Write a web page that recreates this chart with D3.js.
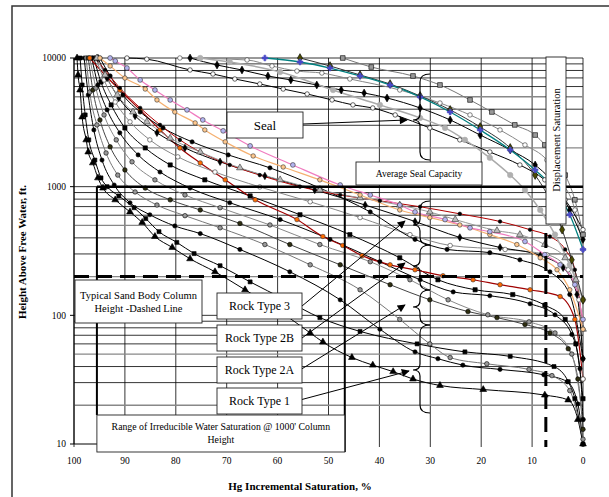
<!DOCTYPE html>
<html>
<head>
<meta charset="utf-8">
<script src="https://cdn.jsdelivr.net/npm/d3@7"></script>
<style>
  body { margin: 0; background: #fff; }
  svg text { font-family: 'Liberation Serif', 'DejaVu Serif', serif; }
</style>
</head>
<body>
<div id="chart"></div>
<script>
// tick values
const xTicks = [100, 90, 80, 70, 60, 50, 40, 30, 20, 10, 0];
const yTicks = [10, 100, 1000, 10000];
const yMinor = [20, 30, 40, 50, 60, 70, 80, 90, 200, 300, 400, 500, 600, 700, 800, 900,
  2000, 3000, 4000, 5000, 6000, 7000, 8000, 9000];

// curves: [Hg incremental saturation %, height above free water ft]
// seal samples
const sealSquares = [[47.2,10000],[41.6,8510],[33.4,7250],[28.1,6170],[22.2,4720],[17.9,3805],[13.4,3020],[9.4,2520],[7.5,2110],[5.5,1610],[3.5,1230],[1.6,790],[0,424]];
const sealTeal = [[62.5,10000],[55.6,9310],[49.7,8360],[43.8,7250],[37.9,6170],[32.0,4980],[26.1,3805],[20.2,2760],[14.3,1930],[9.4,1350],[5.5,943],[2.6,605],[0,325]];
const sealOlive = [[55.6,10000],[49.7,8665],[43.8,7380],[37.9,6280],[32.0,5070],[26.1,3950],[20.2,2910],[14.3,2000],[9.4,1230],[6.5,790],[4.1,463],[2.2,270],[0,132]];
const sealGray = [[75.2,10000],[69.4,9310],[59.5,7780],[49.1,5640],[39.9,4320],[32.0,3420],[27.1,2860],[23.2,2310],[18.3,1675],[14.3,1230],[11.4,943],[8.4,659],[5.5,424],[2.6,247],[0,132]];
const sealDiamonds = [[77.2,10000],[71.9,8820],[67.0,8070],[61.9,7250],[57.4,6750],[52.3,6170],[47.5,5640],[43.0,5345],[38.5,4890],[32.0,4090],[26.1,3300],[20.2,2520],[14.3,1930],[9.4,1475],[5.5,1030],[2.6,659],[0,389]];
const sealOpen = [[89.6,10000],[85.7,9800],[77.2,8070],[72.7,7510],[68.4,6870],[63.5,6280],[58.9,5740],[54.2,5250],[49.3,4720],[45.2,4320],[41.3,4090],[36.9,3610],[30.1,2860],[24.2,2310],[18.3,1860],[12.4,1475],[7.5,1130],[3.5,790],[0,463]];
const sealOpen2 = [[79.2,10000],[66.0,9650],[61.1,8665],[56.2,7920],[51.3,7640],[45.8,6870],[36.0,5640],[28.1,4470],[22.2,3610],[16.3,2760],[11.4,2110],[7.1,1610],[4.5,1130],[1.6,659],[0,325]];
// rock type 3 samples
const pinkLav = [[92.9,10000],[91.9,9480],[89.6,8360],[87.0,6750],[84.1,5640],[81.1,4720],[77.8,3950],[74.7,3300],[70.7,2715],[65.4,2075],[57.0,1475],[47.7,1030],[41.8,862],[36.0,720],[33.0,636],[27.1,555],[22.2,479],[18.3,447],[11.4,375],[7.5,296],[4.5,247],[1.6,173],[0,93]];
const orangePeach = [[94.9,10000],[92.9,8665],[90.0,6990],[86.0,5740],[83.7,4720],[80.2,3805],[76.2,3130],[74.3,2760],[70.3,2230],[64.8,1732],[58.9,1422],[51.7,1130],[43.8,862],[36.0,659],[30.1,575],[24.2,504],[18.3,424],[13.0,355],[8.4,280],[5.1,226],[2.6,158],[0,78]];
const grayTri = [[95.5,10000],[93.9,7380],[91.5,5160],[88.4,3805],[85.7,3190],[81.1,2380],[75.2,1860],[67.4,1400],[59.5,1130],[51.7,943],[43.8,818],[36.0,720],[30.1,636],[25.1,555],[16.9,455],[12.4,424],[7.5,355],[3.5,280],[1.4,189],[0,78]];
const redDots = [[95.9,10000],[93.9,8070],[91.0,5845],[87.0,4090],[83.1,3020],[79.2,2310],[75.2,1860],[69.4,1475],[63.5,1230],[55.6,1000],[47.7,862],[39.9,776],[32.0,698],[24.2,615],[16.3,536],[10.4,463],[6.5,410],[3.5,325],[1.6,226],[0,78]];
// rock type 2B samples
const blackDots1 = [[94.9,10000],[92.9,7250],[90.4,5160],[87.0,3805],[82.5,2860],[76.8,2230],[69.7,1765],[61.5,1400],[51.7,975],[41.8,636],[33.0,389],[26.7,325],[18.3,307],[12.4,270],[6.5,218],[2.6,145],[0,46]];
const diamonds2 = [[95.3,10000],[93.5,6990],[91.2,4890],[88.0,3545],[83.7,2620],[78.2,2000],[71.3,1560],[62.5,1211],[52.7,943],[42.8,720],[33.0,536],[24.2,403],[16.3,337],[8.4,291],[3.9,234],[1.2,145],[0,46]];
const openGray3 = [[95.7,10000],[94.1,6750],[91.9,4550],[89.0,3190],[85.1,2310],[79.6,1705],[72.3,1300],[63.5,995],[53.6,763],[43.8,575],[34.0,424],[26.1,349],[15.3,325],[7.1,296],[2.9,226],[0.8,132],[0,32]];
const redOrange = [[96.9,10000],[93.9,7380],[91.0,5640],[87.0,3950],[83.1,2760],[79.2,2000],[75.2,1530],[70.3,1130],[64.4,790],[56.2,555],[51.1,410],[47.2,349],[43.4,291],[37.9,247],[33.0,226],[27.5,203],[21.6,189],[16.3,173],[10.4,158],[4.5,140],[1.6,93],[0,32]];
// rock type 2A samples
const squares4 = [[96.1,10000],[94.7,6510],[92.7,4320],[90.0,2860],[86.0,2000],[81.1,1475],[74.3,1130],[65.4,847],[55.6,605],[45.8,424],[36.0,280],[28.5,189],[21.2,158],[13.8,145],[7.5,120],[3.5,93],[1.4,60],[0,22.5]];
const blackDots5 = [[96.5,10000],[95.3,6170],[93.5,3950],[91.0,2620],[87.4,1765],[83.1,1300],[77.2,975],[69.4,750],[59.5,555],[49.7,389],[39.9,261],[32.0,189],[25.5,152],[18.3,142],[10.4,123],[5.5,101],[2.2,71],[0.6,38.5],[0,15.5]];
const grayDots6 = [[96.9,10000],[95.7,5845],[94.1,3610],[91.7,2310],[88.6,1560],[84.1,1130],[78.2,862],[71.3,686],[61.5,504],[51.7,355],[41.8,261],[34.0,189],[26.5,132],[18.7,101],[10.6,89],[5.5,73],[2.2,50],[0,15.5]];
const oliveDots7 = [[97.2,10000],[96.3,5640],[94.9,3300],[92.9,2040],[90.0,1350],[86.0,975],[81.1,790],[75.2,659],[67.4,518],[57.6,355],[47.7,247],[37.9,173],[30.1,132],[22.6,107],[16.9,96],[11.4,85],[6.5,73],[2.9,55],[1.0,32],[0,13]];
// rock type 1 samples
const grayDots8 = [[97.6,10000],[96.9,5440],[95.5,3020],[93.7,1828],[91.4,1230],[88.0,910],[83.7,720],[78.2,595],[71.3,479],[62.5,355],[53.6,247],[43.8,158],[36.0,93],[30.1,60],[26.1,47],[18.9,42],[10.6,38],[6.1,34],[2.6,26],[0,10.9]];
const blackDots9 = [[98.0,10000],[97.2,5160],[96.1,2760],[94.5,1610],[92.1,1030],[89.0,750],[85.1,605],[80.2,495],[75.2,432],[67.4,325],[57.6,218],[47.7,132],[39.9,78],[33.0,52],[28.5,46],[23.6,41],[16.3,38],[7.7,34.5],[3.1,30.5],[1.0,20.5],[0,10]];
const squares10 = [[98.8,10000],[98.4,6170],[97.8,3610],[97.1,2310],[95.9,1610],[94.7,1170],[93.5,1000],[91.2,847],[88.2,686],[85.9,565],[83.3,447],[79.8,369],[76.4,302],[71.3,243],[65.4,182],[58.5,132],[51.7,96],[43.8,75],[32.6,60],[23.2,52],[14.3,48],[5.7,40],[2.9,30.5],[1.6,22.5],[0,10]];
const triangles11 = [[99.4,10000],[99.2,7380],[98.8,5640],[98.4,3480],[97.6,2310],[97.2,1860],[96.3,1530],[95.3,1170],[94.3,975],[91.9,790],[89.0,636],[86.6,527],[84.1,410],[80.7,337],[77.2,275],[72.3,218],[66.4,158],[59.5,107],[53.6,73],[51.1,62],[45.4,47],[41.3,41],[37.3,36.5],[33.4,32],[28.1,28.5],[19.6,26.5],[7.5,24],[2.9,22],[1.0,15.5],[0,10]];

// reference values drawn on the chart
const sealCapacityHeight = 1000;
const irreducibleRange = [95.5, 46.8];
const sandColumnHeight = 200;
const displacementSat = 7.3;

// annotation texts
const seaLabel = ["Seal"];
const avgLabel = ["Average Seal Capacity"];
const dispLabel = "Displacement Saturation";
const sandLabel = ["Typical Sand Body Column", "Height -Dashed Line"];
const rockLabels = ["Rock Type 3", "Rock Type 2B", "Rock Type 2A", "Rock Type 1"];
const rangeLabel = ["Range of Irreducible Water Saturation @ 1000' Column", "Height"];

// series styles
const series = [
  { data: triangles11, line: "#000", w: 1, shape: d3.symbolTriangle, fill: "#000", stroke: "#000", size: 20 },
  { data: squares10, line: "#000", w: 1, shape: d3.symbolSquare, fill: "#000", stroke: "#000", size: 16 },
  { data: blackDots9, line: "#000", w: 1, shape: d3.symbolCircle, fill: "#000", stroke: "#000", size: 14 },
  { data: grayDots8, line: "#777", w: 1, shape: d3.symbolCircle, fill: "#999", stroke: "#000", size: 16 },
  { data: oliveDots7, line: "#444", w: 1, shape: d3.symbolCircle, fill: "#2e2e10", stroke: "#000", size: 16 },
  { data: grayDots6, line: "#888", w: 1, shape: d3.symbolCircle, fill: "#999", stroke: "#000", size: 16 },
  { data: blackDots5, line: "#000", w: 1, shape: d3.symbolCircle, fill: "#000", stroke: "#000", size: 14 },
  { data: squares4, line: "#000", w: 1, shape: d3.symbolSquare, fill: "#000", stroke: "#000", size: 18 },
  { data: redOrange, line: "#a00000", w: 1.2, shape: d3.symbolCircle, fill: "#ff6a00", stroke: "#333", size: 16 },
  { data: openGray3, line: "#888", w: 1, shape: d3.symbolCircle, fill: "#fff", stroke: "#333", size: 16 },
  { data: diamonds2, line: "#000", w: 1, shape: d3.symbolDiamond, fill: "#000", stroke: "#000", size: 16 },
  { data: blackDots1, line: "#000", w: 1, shape: d3.symbolCircle, fill: "#000", stroke: "#000", size: 14 },
  { data: redDots, line: "#b00000", w: 1, shape: d3.symbolCircle, fill: "#000", stroke: "#000", size: 10 },
  { data: grayTri, line: "#999", w: 1, shape: d3.symbolTriangle, fill: "#bbb", stroke: "#333", size: 20 },
  { data: orangePeach, line: "#f5b070", w: 1.2, shape: d3.symbolCircle, fill: "#ffc88e", stroke: "#333", size: 16 },
  { data: pinkLav, line: "#f07cc0", w: 1.2, shape: d3.symbolCircle, fill: "#b4b4f0", stroke: "#333", size: 18 },
  { data: sealOpen2, line: "#888", w: 1, shape: d3.symbolCircle, fill: "#fff", stroke: "#333", size: 16 },
  { data: sealOpen, line: "#000", w: 1, shape: d3.symbolCircle, fill: "#fff", stroke: "#000", size: 16 },
  { data: sealDiamonds, line: "#000", w: 1, shape: d3.symbolDiamond, fill: "#000", stroke: "#000", size: 18 },
  { data: sealGray, line: "#aaa", w: 1.5, shape: d3.symbolCircle, fill: "#b0b0b0", stroke: "#b0b0b0", size: 24 },
  { data: sealOlive, line: "#333", w: 1, shape: d3.symbolDiamond, fill: "#4a4a00", stroke: "#000", size: 22 },
  { data: sealTeal, line: "#008080", w: 1.3, shape: d3.symbolCross, fill: "#4a4ac8", stroke: "#4a4ac8", size: 18 },
  { data: sealSquares, line: "#777", w: 1, shape: d3.symbolSquare, fill: "#999", stroke: "#000", size: 22 }
];

const W = 609, H = 497;
const plot = { left: 74, right: 583, top: 58, bottom: 444 };
const FONT = "'Liberation Serif', 'DejaVu Serif', serif";

const svg = d3.select("#chart").append("svg")
  .attr("width", W).attr("height", H)
  .attr("font-family", FONT);

const x = d3.scaleLinear().domain([100, 0]).range([plot.left, plot.right]);
const y = d3.scaleLog().domain([10, 10000]).range([plot.bottom, plot.top]);

// outer frame
svg.append("rect").attr("x", 12).attr("y", 6).attr("width", 640).attr("height", 540)
  .attr("fill", "none").attr("stroke", "#333").attr("stroke-width", 1.5);

// grid
const grid = svg.append("g");
grid.selectAll(".vg").data(xTicks).join("line")
  .attr("x1", d => x(d)).attr("x2", d => x(d))
  .attr("y1", plot.top).attr("y2", plot.bottom + 3)
  .attr("stroke", "#000").attr("stroke-width", 0.8);
const mant = d => d / Math.pow(10, Math.floor(Math.log10(d) + 1e-9));
grid.selectAll(".hg").data(yMinor.concat([100, 1000, 10000])).join("line")
  .attr("x1", plot.left).attr("x2", plot.right)
  .attr("y1", d => y(d)).attr("y2", d => y(d))
  .attr("stroke", d => (Math.round(mant(d)) === 2 || Math.round(mant(d)) === 5) ? "#888" : "#000")
  .attr("stroke-width", d => (Math.round(mant(d)) === 2 || Math.round(mant(d)) === 5) ? 1.3 : 0.8);
grid.append("line").attr("x1", plot.left).attr("x2", x(irreducibleRange[1]))
  .attr("y1", y(10)).attr("y2", y(10)).attr("stroke", "#000");

// y axis
const yAxis = svg.append("g");
yAxis.append("line").attr("x1", plot.left).attr("x2", plot.left)
  .attr("y1", plot.top).attr("y2", plot.bottom).attr("stroke", "#000");
yAxis.selectAll(".tk").data(yTicks).join("line")
  .attr("x1", plot.left - 4).attr("x2", plot.left)
  .attr("y1", d => y(d)).attr("y2", d => y(d)).attr("stroke", "#000");
yAxis.selectAll("text").data(yTicks).join("text")
  .attr("x", plot.left - 8).attr("y", d => y(d)).attr("dy", "0.35em")
  .attr("text-anchor", "end").attr("font-size", 9.5).attr("font-family", FONT).text(d => d);

svg.append("g").selectAll("text").data(xTicks).join("text")
  .attr("x", d => x(d)).attr("y", 461).attr("dy", "0.35em")
  .attr("text-anchor", "middle").attr("font-size", 9.5).attr("font-family", FONT).text(d => d);

svg.append("text").attr("transform", "translate(26,252) rotate(-90)")
  .attr("text-anchor", "middle").attr("font-size", 11).attr("font-weight", "bold")
  .attr("font-family", FONT).text("Height Above Free Water, ft.");
svg.append("text").attr("x", 300).attr("y", 490)
  .attr("text-anchor", "middle").attr("font-size", 11).attr("font-weight", "bold")
  .attr("font-family", FONT).text("Hg Incremental Saturation, %");

// curves
const line = d3.line().x(d => x(d[0])).y(d => y(d[1])).curve(d3.curveMonotoneX);
const curves = svg.append("g");
series.forEach(s => {
  curves.append("path").datum(s.data.slice().sort((a, b) => b[0] - a[0]))
    .attr("d", line).attr("fill", "none")
    .attr("stroke", s.line).attr("stroke-width", s.w);
});
series.forEach(s => {
  curves.append("g").selectAll("path").data(s.data).join("path")
    .attr("transform", d => `translate(${x(d[0])},${y(d[1])})`)
    .attr("d", d3.symbol().type(s.shape).size(s.size))
    .attr("fill", s.fill).attr("stroke", s.stroke).attr("stroke-width", 0.6);
});

// reference lines
const refs = svg.append("g");
refs.append("line").attr("x1", x(irreducibleRange[0])).attr("x2", plot.right)
  .attr("y1", y(sealCapacityHeight)).attr("y2", y(sealCapacityHeight))
  .attr("stroke", "#000").attr("stroke-width", 2.5);
irreducibleRange.forEach((v, i) => {
  refs.append("line").attr("x1", x(v)).attr("x2", x(v))
    .attr("y1", y(sealCapacityHeight)).attr("y2", i === 0 ? 415 : 452)
    .attr("stroke", "#000").attr("stroke-width", 2);
});
refs.append("line").attr("x1", plot.left).attr("x2", plot.right)
  .attr("y1", y(sandColumnHeight)).attr("y2", y(sandColumnHeight))
  .attr("stroke", "#000").attr("stroke-width", 3).attr("stroke-dasharray", "15,8");
refs.append("line").attr("x1", x(displacementSat)).attr("x2", x(displacementSat))
  .attr("y1", 233).attr("y2", 447)
  .attr("stroke", "#000").attr("stroke-width", 3).attr("stroke-dasharray", "15,8");

// arrowhead
svg.append("defs").append("marker").attr("id", "arr")
  .attr("viewBox", "0 0 10 10").attr("refX", 9).attr("refY", 5)
  .attr("markerWidth", 10).attr("markerHeight", 8).attr("markerUnits", "userSpaceOnUse")
  .attr("orient", "auto")
  .append("path").attr("d", "M0,0L10,5L0,10z").attr("fill", "#000");

// braces
const braces = [[74, 160, 120], [201, 245, 225], [245, 290, 266], [290, 325, 307], [325, 413, 370]];
svg.append("g").selectAll("path").data(braces).join("path")
  .attr("d", b => `M430,${b[0]} Q420,${b[0]} 420,${b[0] + 8} L420,${b[2] - 6} Q420,${b[2]} 413,${b[2]} Q420,${b[2]} 420,${b[2] + 6} L420,${b[1] - 8} Q420,${b[1]} 430,${b[1]}`)
  .attr("fill", "none").attr("stroke", "#000").attr("stroke-width", 1.2);

// boxes
function box(x0, y0, x1, y1, lines, fs, lh) {
  const g = svg.append("g");
  g.append("rect").attr("x", x0).attr("y", y0).attr("width", x1 - x0).attr("height", y1 - y0)
    .attr("fill", "#fff").attr("stroke", "#222").attr("stroke-width", 0.9);
  const cy = (y0 + y1) / 2 - (lines.length - 1) * lh / 2;
  lines.forEach((t, i) => {
    g.append("text").attr("x", (x0 + x1) / 2).attr("y", cy + i * lh).attr("dy", "0.35em")
      .attr("text-anchor", "middle").attr("font-size", fs).attr("font-family", FONT).text(t);
  });
  return g;
}

// arrows
const arrows = [
  [303, 124, 407, 120],
  [302, 306, 405, 221],
  [302, 338, 405, 263],
  [300, 370, 405, 305],
  [300, 400, 409, 371]
];
svg.append("g").selectAll("line").data(arrows).join("line")
  .attr("x1", d => d[0]).attr("y1", d => d[1]).attr("x2", d => d[2]).attr("y2", d => d[3])
  .attr("stroke", "#000").attr("stroke-width", 1).attr("marker-end", "url(#arr)");

box(227, 112, 303, 138, seaLabel, 13, 13);
box(356, 162, 482, 185, avgLabel, 9.5, 11);
box(75, 280, 202, 323, sandLabel, 10.5, 13);
rockLabels.forEach((t, i) => {
  const tops = [293, 325, 357, 388];
  box(217, tops[i], 302, tops[i] + 26, [t], 12, 12);
});
box(x(irreducibleRange[0]), 415, x(irreducibleRange[1]), 452, rangeLabel, 9.8, 13);

const dg = svg.append("g");
dg.append("rect").attr("x", 546).attr("y", 57).attr("width", 20).attr("height", 167)
  .attr("fill", "#fff").attr("stroke", "#222").attr("stroke-width", 0.9);
dg.append("text").attr("transform", "translate(556,140) rotate(-90)")
  .attr("dy", "0.35em").attr("text-anchor", "middle").attr("font-size", 10.5)
  .attr("font-family", FONT).text(dispLabel);
</script>
</body>
</html>
